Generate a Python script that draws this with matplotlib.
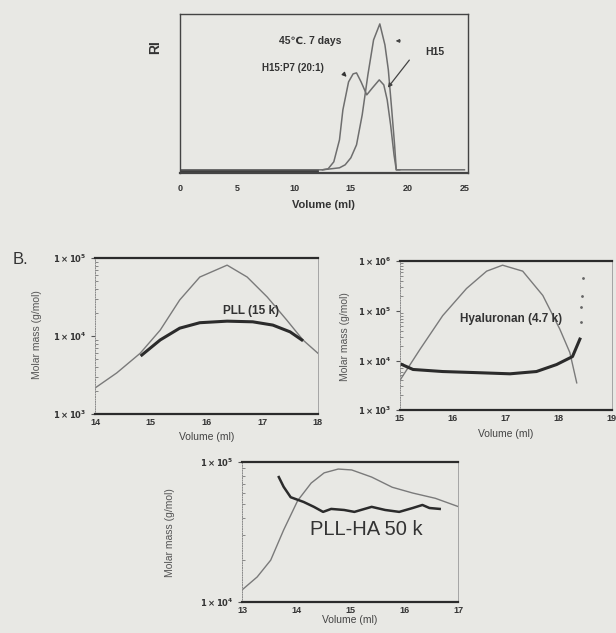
import matplotlib.pyplot as plt
import numpy as np
from matplotlib.ticker import FixedLocator, LogLocator, NullFormatter

plt.rcParams["font.family"] = ["Liberation Sans", "DejaVu Sans"]

PAPER = "#e8e8e4"
INK = "#2b2b2b"
THIN = "#7a7a7a"

# panel A: RI traces (arbitrary units)
a_mix_vol = [0, 12.5, 13.0, 13.5, 14.0, 14.3, 14.8, 15.2, 15.5, 15.9, 16.4, 16.9, 17.5, 17.9, 18.2, 18.5, 18.8, 19.0, 25.0]
a_mix_ri = [0, 0, 1, 8, 30, 60, 88, 96, 97, 88, 75, 82, 90, 85, 70, 45, 15, 0, 0]
a_h15_vol = [12.5, 14.0, 14.5, 15.0, 15.5, 16.0, 16.5, 17.0, 17.55, 18.0, 18.3, 18.6, 18.85, 19.0, 19.3]
a_h15_ri = [0, 2, 5, 12, 25, 55, 95, 130, 146, 125, 100, 60, 25, 0, 0]
a_base_vol = [0, 12.0]
a_base_ri = [0, 0]
a_xticks = [0, 5, 10, 15, 20, 25]

# panel B1: PLL (15 k)
b1_rc_vol = [14.0, 14.39, 14.81, 15.17, 15.52, 15.88, 16.37, 16.73, 17.09, 17.44, 17.73, 18.0]
b1_rc_mass = [2150, 3360, 6000, 11900, 29000, 57000, 81000, 57000, 31600, 16000, 8900, 6000]
b1_mw_vol = [14.84, 15.17, 15.52, 15.88, 16.37, 16.83, 17.19, 17.50, 17.71]
b1_mw_mass = [5700, 8900, 12600, 14800, 15500, 15200, 13800, 11300, 8900]

# panel B2: hyaluronan (4.7 k)
b2_rc_vol = [15.01, 15.38, 15.81, 16.26, 16.64, 16.94, 17.32, 17.70, 18.02, 18.21, 18.34]
b2_rc_mass = [4100, 16700, 80000, 282000, 630000, 830000, 630000, 204000, 43000, 14500, 3550]
b2_mw_vol = [15.04, 15.25, 15.81, 16.45, 17.08, 17.58, 17.96, 18.26, 18.40]
b2_mw_mass = [8300, 6600, 6000, 5700, 5400, 6000, 8300, 12000, 27000]
b2_dot_vol = [18.42, 18.43, 18.44, 18.45]
b2_dot_mass = [60000, 120000, 200000, 450000]

# panel B3: PLL-HA 50 k
b3_rc_vol = [13.0, 13.28, 13.53, 13.77, 14.03, 14.28, 14.52, 14.78, 15.03, 15.40, 15.78, 16.16, 16.58, 17.03]
b3_rc_mass = [12200, 15100, 19900, 32700, 53000, 70700, 83600, 89000, 87700, 78000, 66000, 60000, 55000, 47600]
b3_mw_vol = [13.68, 13.77, 13.90, 14.14, 14.33, 14.50, 14.65, 14.89, 15.08, 15.40, 15.65, 15.91, 16.16, 16.34, 16.47, 16.66]
b3_mw_mass = [78000, 66400, 56000, 51800, 47800, 44000, 46200, 45400, 44000, 47800, 45400, 44000, 46900, 49300, 46900, 46200]


def sci_label(e):
    return r"$\mathbf{1\times10^{%d}}$" % e


def style_b(ax, xlim, decades, xticks):
    ax.set_yscale("log")
    ax.set_xlim(*xlim)
    ax.set_ylim(10 ** decades[0], 10 ** decades[-1])
    ax.set_facecolor(PAPER)
    ax.spines["top"].set_linewidth(1.6)
    ax.spines["bottom"].set_linewidth(1.6)
    ax.spines["top"].set_color(INK)
    ax.spines["bottom"].set_color(INK)
    ax.spines["left"].set_linewidth(0.7)
    ax.spines["left"].set_color("#8a8a8a")
    ax.spines["left"].set_linestyle((0, (1, 1.5)))
    ax.spines["right"].set_linewidth(0.6)
    ax.spines["right"].set_color("#9a9a9a")
    ax.yaxis.set_major_locator(FixedLocator([10 ** d for d in decades]))
    ax.set_yticklabels([sci_label(d) for d in decades])
    ax.yaxis.set_minor_locator(LogLocator(base=10, subs=np.arange(2, 10)))
    ax.yaxis.set_minor_formatter(NullFormatter())
    ax.set_xticks(xticks)
    ax.set_xticklabels([str(t) for t in xticks], fontweight="bold")
    ax.tick_params(axis="y", which="major", length=3, width=0.8, color="#555",
                   labelsize=6, pad=3, labelcolor="#333")
    ax.tick_params(axis="y", which="minor", length=2, width=0.6, color="#777", direction="in")
    ax.tick_params(axis="x", length=0, labelsize=6.5, pad=3, labelcolor="#333")


fig = plt.figure(figsize=(6.16, 6.33), dpi=100, facecolor=PAPER)

# ---- panel A
axA = fig.add_axes([0.292, 0.727, 0.4675, 0.251])
axA.set_facecolor(PAPER)
axA.plot(a_base_vol, a_base_ri, color=INK, lw=2.0)
axA.plot(a_mix_vol, a_mix_ri, color="#6e6e6e", lw=1.1)
axA.plot(a_h15_vol, a_h15_ri, color="#6e6e6e", lw=1.1)
axA.set_xlim(-0.05, 25.3)
axA.set_ylim(-3, 156)
axA.set_yticks([])
axA.set_xticks(a_xticks)
axA.set_xticklabels([str(t) for t in a_xticks], fontweight="bold")
axA.tick_params(axis="x", length=0, labelsize=6.5, pad=8, labelcolor="#333")
for s in axA.spines.values():
    s.set_color("#444")
    s.set_linewidth(1.0)
axA.spines["bottom"].set_linewidth(1.6)
axA.text(0.5, -0.2, "Volume (ml)", transform=axA.transAxes, ha="center", va="center",
         fontsize=8, fontweight="bold", color="#333")
axA.text(-0.085, 0.79, "RI", transform=axA.transAxes, rotation=90, ha="center", va="center",
         fontsize=10, fontweight="bold", color="#333")
axA.text(11.4, 129, "45\u2103. 7 days", ha="center", va="center", fontsize=7.5,
         fontweight="bold", color="#333")
axA.text(9.9, 102, "H15:P7 (20:1)", ha="center", va="center", fontsize=7,
         fontweight="bold", color="#333")
axA.annotate("", xy=(14.8, 91), xytext=(14.2, 98),
             arrowprops=dict(arrowstyle="-|>", color="#333", lw=0.9, mutation_scale=6))
axA.text(22.4, 118, "H15", ha="center", va="center", fontsize=7.5, fontweight="bold", color="#333")
axA.annotate("", xy=(18.1, 80), xytext=(20.3, 112),
             arrowprops=dict(arrowstyle="-|>", color="#444", lw=0.9, mutation_scale=6))
axA.annotate("", xy=(18.7, 129), xytext=(19.6, 129),
             arrowprops=dict(arrowstyle="-|>", color="#444", lw=0.8, mutation_scale=5))

# ---- panel B1
ax1 = fig.add_axes([0.1542, 0.346, 0.362, 0.2464])
style_b(ax1, (14, 18), [3, 4, 5], [14, 15, 16, 17, 18])
ax1.plot(b1_rc_vol, b1_rc_mass, color=THIN, lw=1.0)
ax1.plot(b1_mw_vol, b1_mw_mass, color=INK, lw=2.2)
ax1.text(16.8, 21000, "PLL (15 k)", ha="center", va="center", fontsize=8.5,
         fontweight="bold", color="#333")
ax1.text(0.5, -0.15, "Volume (ml)", transform=ax1.transAxes, ha="center", va="center",
         fontsize=7.5, color="#444")

# ---- panel B2
ax2 = fig.add_axes([0.649, 0.352, 0.344, 0.2354])
style_b(ax2, (15, 19), [3, 4, 5, 6], [15, 16, 17, 18, 19])
ax2.plot(b2_rc_vol, b2_rc_mass, color=THIN, lw=1.0)
ax2.plot(b2_mw_vol, b2_mw_mass, color=INK, lw=2.2)
ax2.plot(b2_dot_vol, b2_dot_mass, ls="none", marker=".", ms=2, color="#666")
ax2.text(17.1, 70000, "Hyaluronan (4.7 k)", ha="center", va="center", fontsize=8.5,
         fontweight="bold", color="#333")
ax2.text(0.5, -0.16, "Volume (ml)", transform=ax2.transAxes, ha="center", va="center",
         fontsize=7.5, color="#444")

# ---- panel B3
ax3 = fig.add_axes([0.393, 0.049, 0.3506, 0.2212])
style_b(ax3, (13, 17), [4, 5], [13, 14, 15, 16, 17])
ax3.plot(b3_rc_vol, b3_rc_mass, color=THIN, lw=1.0)
ax3.plot(b3_mw_vol, b3_mw_mass, color=INK, lw=1.8)
ax3.text(15.3, 33000, "PLL-HA 50 k", ha="center", va="center", fontsize=14.5, color="#333")
ax3.text(0.5, -0.13, "Volume (ml)", transform=ax3.transAxes, ha="center", va="center",
         fontsize=7.5, color="#444")

# y labels and panel letter
for x, y in [(37, 335), (345, 337), (170, 533)]:
    fig.text(x / 616, 1 - y / 633, "Molar mass (g/mol)", rotation=90, ha="center",
             va="center", fontsize=7.5, color="#555")
fig.text(20 / 616, 1 - 260 / 633, "B.", ha="center", va="center", fontsize=12, color="#333")

fig.savefig("out.png", dpi=100, facecolor=PAPER)
